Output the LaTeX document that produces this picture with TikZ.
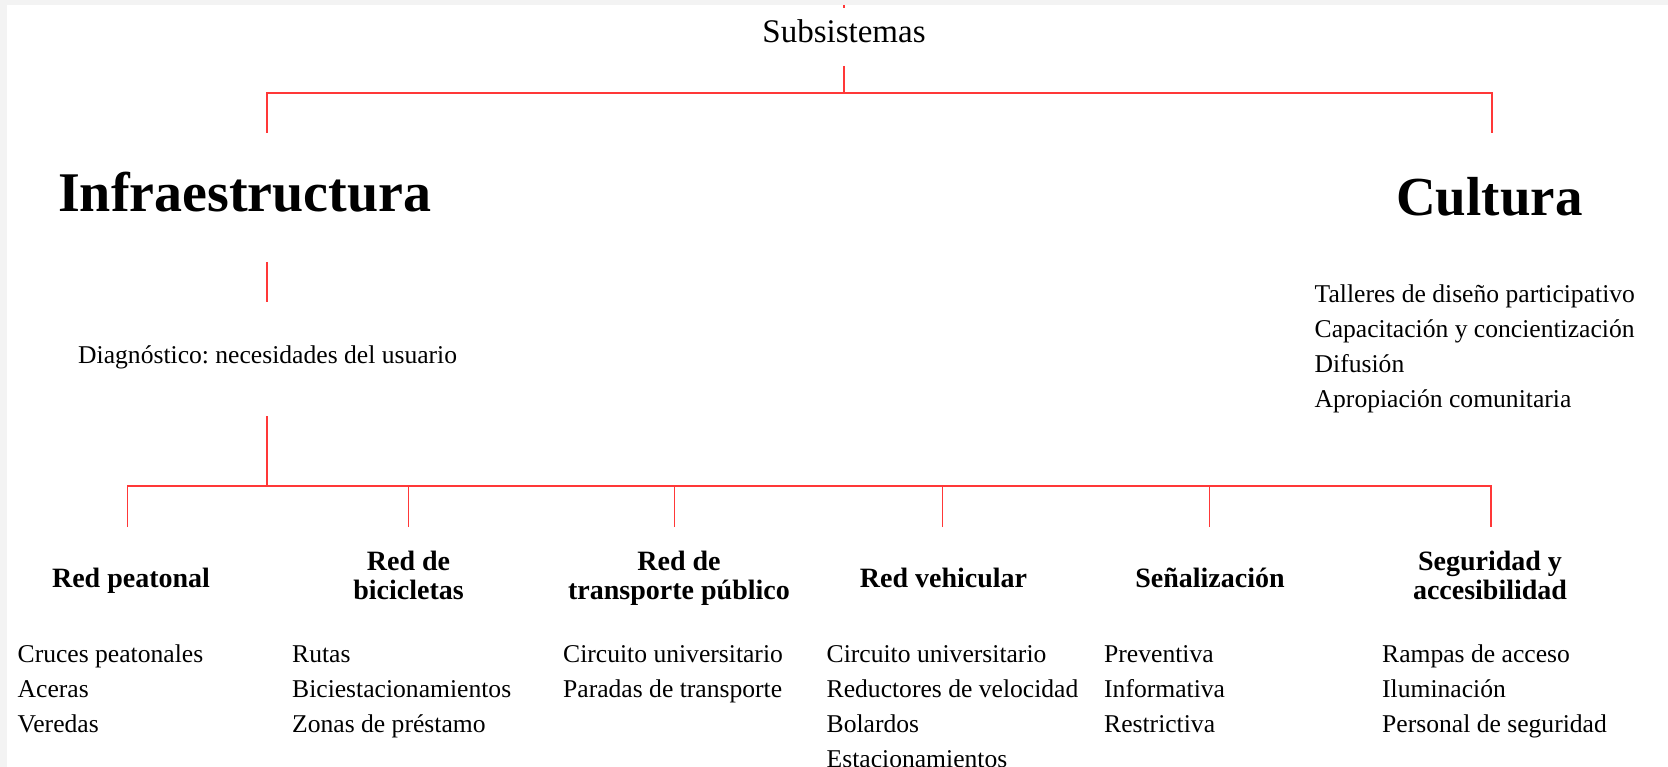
\documentclass[tikz,border=0pt]{standalone}
\usepackage{fontspec}
\setmainfont{Liberation Serif}
\usepackage{tikz}
\definecolor{linea}{HTML}{FF3838}
\definecolor{margen}{HTML}{F3F3F3}
\frenchspacing

\begin{document}
\begin{tikzpicture}[x=1pt, y=-1pt,
    rama/.style={draw=linea, line width=1.5pt},
    titulo/.style={font=\fontsize{56}{60}\selectfont\bfseries, anchor=base west, inner sep=0pt},
    cabeza/.style={font=\fontsize{28}{29}\selectfont\bfseries, align=center, anchor=base, inner sep=0pt},
    lista/.style={font=\fontsize{25.6}{35}\selectfont, align=left, anchor=base west, inner sep=0pt}]
    \useasboundingbox (0, 0) rectangle (1668, 767);
    \fill[margen] (0, 0) rectangle (1668, 5);
    \fill[margen] (0, 0) rectangle (6.5, 767);

    % Top level
    \coordinate (marca) at (844, 5);
    \coordinate (marca-fin) at (844, 8);
    \draw[rama] (marca) -- (marca-fin);
    \node[anchor=base, inner sep=0pt, font=\fontsize{33}{40}\selectfont] (subs) at (844, 43) {Subsistemas};
    \coordinate (subs-out) at (844, 66);
    \coordinate (nudo1) at (844, 93);
    \coordinate (infra-in) at (267, 133);
    \coordinate (cult-in) at (1492, 133);
    \draw[rama] (subs-out) -- (nudo1);
    \draw[rama] (infra-in) |- (nudo1) -| (cult-in);

    \node[titulo] (infra) at (58, 212) {Infraestructura};
    \node[titulo, font=\fontsize{55}{60}\selectfont\bfseries] (cult) at (1396, 216) {Cultura};
    % base = last line of the list
    \node[lista] (cult-lista) at (1314.5, 407) {Talleres de diseño participativo\\Capacitación y concientización\\Difusión\\Apropiación comunitaria};

    % Infraestructura branch
    \coordinate (infra-out) at (267, 262);
    \coordinate (diag-in) at (267, 302);
    \draw[rama] (infra-out) -- (diag-in);
    \node[lista] (diag) at (78, 363) {Diagnóstico: necesidades del usuario};
    \coordinate (diag-out) at (267, 416);
    \coordinate (nudo2) at (267, 486);
    \draw[rama] (diag-out) -- (nudo2);

    \coordinate (peat-in) at (127.5, 527);
    \coordinate (bici-in) at (408.5, 527);
    \coordinate (trans-in) at (674.5, 527);
    \coordinate (vehi-in) at (942.5, 527);
    \coordinate (senal-in) at (1209.5, 527);
    \coordinate (segu-in) at (1491, 527);
    \draw[rama] (peat-in) |- (nudo2) -| (segu-in);
    \draw[rama] (bici-in) -- (bici-in |- nudo2);
    \draw[rama] (trans-in) -- (trans-in |- nudo2);
    \draw[rama] (vehi-in) -- (vehi-in |- nudo2);
    \draw[rama] (senal-in) -- (senal-in |- nudo2);

    % Subsystems
    \node[cabeza] (peat) at (131, 587) {Red peatonal};
    \node[cabeza] (bici) at (408.5, 599) {Red de\\bicicletas};
    \node[cabeza] (trans) at (679, 599) {Red de\\transporte público};
    \node[cabeza] (vehi) at (943.5, 587) {Red vehicular};
    \node[cabeza] (senal) at (1210, 587) {Señalización};
    \node[cabeza] (segu) at (1490, 599) {Seguridad y\\accesibilidad};

    \node[lista] (peat-lista) at (17.5, 732) {Cruces peatonales\\Aceras\\Veredas};
    \node[lista] (bici-lista) at (292, 732) {Rutas\\Biciestacionamientos\\Zonas de préstamo};
    \node[lista] (trans-lista) at (563, 697) {Circuito universitario\\Paradas de transporte};
    \node[lista] (vehi-lista) at (826.5, 767) {Circuito universitario\\Reductores de velocidad\\Bolardos\\Estacionamientos};
    \node[lista] (senal-lista) at (1104, 732) {Preventiva\\Informativa\\Restrictiva};
    \node[lista] (segu-lista) at (1382, 732) {Rampas de acceso\\Iluminación\\Personal de seguridad};
\end{tikzpicture}
\end{document}
